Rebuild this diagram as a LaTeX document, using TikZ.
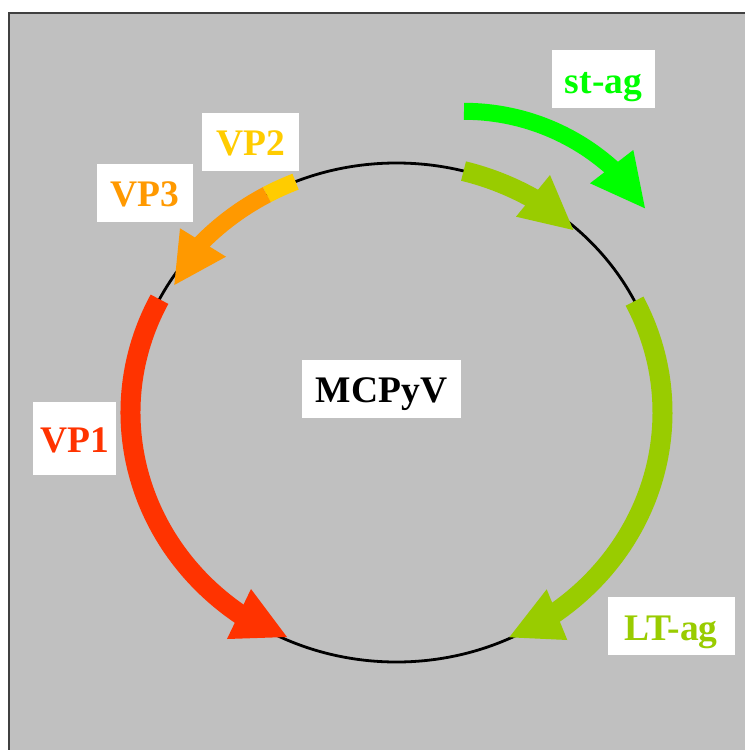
\documentclass[tikz,border=0pt]{standalone}
\usepackage{fontspec}
\setmainfont{Liberation Serif}
\definecolor{panelgray}{HTML}{C0C0C0}
\definecolor{framegray}{HTML}{404040}
\definecolor{stgreen}{HTML}{00FF00}
\definecolor{ltgreen}{HTML}{99CC00}
\definecolor{vpyellow}{HTML}{FFCC00}
\definecolor{vporange}{HTML}{FF9900}
\definecolor{vpred}{HTML}{FF3300}
% band along the genome ellipse: colour, width, start angle, end angle
\newcommand{\orfarc}[4]{\draw[#1, line width=#2] (396.5,-412.5) ++(#3:266pt and 249.5pt) arc[start angle=#3, end angle=#4, x radius=266pt, y radius=249.5pt];}

\begin{document}
\begin{tikzpicture}[x=1pt, y=1pt,
  lbl/.style={fill=white, inner sep=0pt, text height=28pt, text depth=0pt,
    minimum height=58pt, font=\fontsize{37.5}{40}\selectfont\bfseries}]

\useasboundingbox (0,0) rectangle (745,-750);
\fill[panelgray] (9,-13) rectangle (745,-750);
\draw[framegray, line width=1.5pt] (9,-750) -- (9,-13) -- (745,-13);

% genome
\draw[black, line width=2.8pt] (396.5,-412.5) ellipse [x radius=266pt, y radius=249.5pt];

% early region
\draw[stgreen, line width=17pt] (464,-111.3) arc[start angle=90, end angle=47.5, radius=222pt];
\fill[stgreen] (590,-183.3) -- (633.3,-150) -- (645,-208.3) -- cycle;

\orfarc{ltgreen}{20pt}{75.4}{58.4}
\fill[ltgreen] (516,-216.7) -- (550,-175) -- (573.3,-230) -- cycle;

\orfarc{ltgreen}{20pt}{26.5}{-54.3}
\fill[ltgreen] (546.7,-589.3) -- (567.3,-640) -- (509.3,-637.3) -- cycle;

% late region
\orfarc{vpyellow}{17pt}{112.3}{119.2}
\orfarc{vporange}{17pt}{119.2}{137.9}
\fill[vporange] (180,-228.3) -- (226,-256.7) -- (174.3,-285) -- cycle;

\orfarc{vpred}{20pt}{153}{234.8}
\fill[vpred] (227,-639) -- (251,-589) -- (287,-637) -- cycle;

% labels
\node[lbl, text=stgreen, minimum width=103pt] (stag) at (603.5,-79) {st-ag};
\node[lbl, text=vpyellow, minimum width=97pt] (vptwo) at (250.7,-141.5) {VP2};
\node[lbl, text=vporange, minimum width=96pt] (vpthree) at (144.5,-192.5) {VP3};
\node[lbl, text=vpred, minimum width=83pt, minimum height=73pt] (vpone) at (74.7,-438) {VP1};
\node[lbl, text=black, minimum width=159pt] (virus) at (381.5,-388.5) {MCPyV};
\node[lbl, text=ltgreen, minimum width=127pt] (ltag) at (671,-626.3) {LT-ag};

\end{tikzpicture}
\end{document}
